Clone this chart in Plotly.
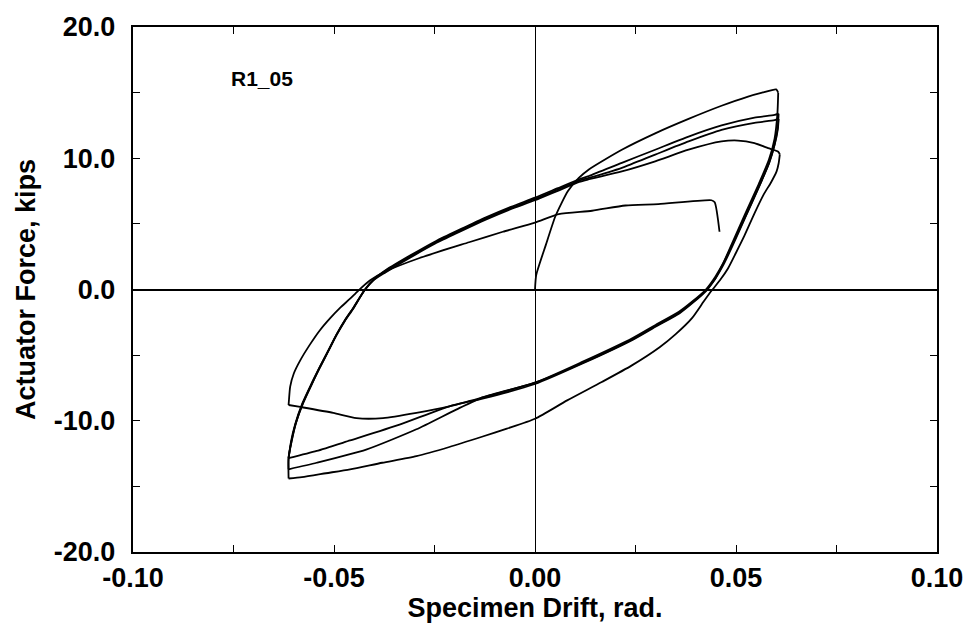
import plotly.graph_objects as go

# ---- Data: specimen drift (rad.) and actuator force (kips), traced half-cycle by half-cycle ----
h1_drift = [0.0, 0.0003, 0.0027, 0.0051, 0.0082, 0.0109, 0.0134, 0.0216, 0.0299, 0.0382, 0.0464, 0.0530, 0.0565, 0.0600, 0.0605]
h1_force = [0.0, 1.1, 3.4, 5.6, 7.5, 8.5, 9.15, 10.65, 11.9, 13.0, 14.0, 14.7, 15.0, 15.25, 15.0]

h2_drift = [0.0605, 0.0603, 0.0596, 0.0582, 0.0556, 0.0522, 0.0490, 0.0468, 0.0449, 0.0425, 0.0392, 0.0358, 0.0300, 0.0243, 0.0119, 0.0000, -0.0128, -0.0196, -0.0295, -0.0420, -0.0543, -0.0613]
h2_force = [15.0, 13.4, 11.5, 9.9, 8.0, 5.7, 3.5, 2.0, 1.0, 0.0, -0.9, -1.7, -2.7, -3.7, -5.5, -7.1, -8.2, -9.15, -10.65, -12.2, -13.2, -13.7]

h3_drift = [-0.0613, -0.0613, -0.0605, -0.0595, -0.0576, -0.0555, -0.0535, -0.0513, -0.0493, -0.0472, -0.0452, -0.0423, -0.0400, -0.0370, -0.0310, -0.0246, -0.0185, -0.0122, -0.0060, 0.0, 0.0055, 0.0110, 0.0134, 0.0216, 0.0299, 0.0382, 0.0464, 0.0546, 0.0596, 0.0606]
h3_force = [-13.7, -12.8, -11.5, -10.2, -8.6, -7.2, -5.9, -4.6, -3.4, -2.3, -1.4, 0.0, 0.8, 1.5, 2.6, 3.7, 4.6, 5.5, 6.3, 7.0, 7.7, 8.4, 8.65, 9.65, 10.65, 11.65, 12.5, 13.1, 13.3, 13.4]

h4_drift = [0.0606, 0.0604, 0.0597, 0.0583, 0.0557, 0.0523, 0.0491, 0.0469, 0.0450, 0.0426, 0.0393, 0.0360, 0.0302, 0.0245, 0.0121, 0.0, -0.0128, -0.0213, -0.0337, -0.0460, -0.0543, -0.0613]
h4_force = [13.4, 12.4, 11.2, 9.7, 7.8, 5.5, 3.3, 1.9, 0.9, -0.1, -1.0, -1.8, -2.8, -3.8, -5.6, -7.2, -8.3, -8.9, -10.3, -11.5, -12.3, -12.85]

h5_drift = [-0.0613, -0.0607, -0.0597, -0.0579, -0.0558, -0.0537, -0.0515, -0.0495, -0.0474, -0.0454, -0.0425, -0.0402, -0.0372, -0.0312, -0.0248, -0.0187, -0.0124, -0.0062, 0.0, 0.0055, 0.0110, 0.0134, 0.0216, 0.0299, 0.0382, 0.0464, 0.0505, 0.0546, 0.0580, 0.0605, 0.0609]
h5_force = [-12.85, -11.6, -10.3, -8.7, -7.3, -6.0, -4.7, -3.5, -2.4, -1.5, -0.1, 0.7, 1.3, 2.4, 3.5, 4.4, 5.3, 6.1, 6.8, 7.5, 8.2, 8.4, 9.0, 9.77, 10.65, 11.28, 11.35, 11.15, 10.77, 10.5, 10.3]

h6_drift = [0.0609, 0.0606, 0.0601, 0.0586, 0.0570, 0.0546, 0.0521, 0.0500, 0.0480, 0.0460, 0.0439, 0.0420, 0.0390, 0.0350, 0.0310, 0.0240, 0.0166, 0.0080, 0.0, -0.0070, -0.0130, -0.0213, -0.0295, -0.0380, -0.0460, -0.0520, -0.0580, -0.0613]
h6_force = [10.3, 9.6, 9.0, 8.1, 7.3, 5.8, 4.1, 2.8, 1.6, 0.7, -0.1, -0.9, -2.2, -3.4, -4.4, -5.8, -7.05, -8.45, -9.85, -10.6, -11.2, -12.0, -12.7, -13.2, -13.7, -14.0, -14.3, -14.4]

h7_drift = [-0.0613, -0.0613, -0.0606, -0.0596, -0.0578, -0.0557, -0.0536, -0.0514, -0.0494, -0.0473, -0.0453, -0.0424, -0.0401, -0.0371, -0.0311, -0.0247, -0.0186, -0.0123, -0.0061, 0.0, 0.0055, 0.0110, 0.0134, 0.0216, 0.0299, 0.0382, 0.0464, 0.0546, 0.0596, 0.0606]
h7_force = [-14.4, -12.9, -11.6, -10.3, -8.7, -7.3, -6.0, -4.7, -3.5, -2.4, -1.5, -0.05, 0.75, 1.45, 2.5, 3.6, 4.5, 5.4, 6.2, 6.9, 7.6, 8.3, 8.5, 9.27, 10.28, 11.28, 12.16, 12.7, 12.9, 13.0]

h8_drift = [0.0606, 0.0604, 0.0596, 0.0582, 0.0555, 0.0521, 0.0489, 0.0467, 0.0448, 0.0424, 0.0391, 0.0357, 0.0299, 0.0242, 0.0118, 0.0, -0.0128, -0.0213, -0.0295, -0.0378, -0.0444, -0.0502, -0.0584, -0.0613]
h8_force = [13.0, 12.2, 11.0, 9.6, 7.7, 5.4, 3.3, 1.9, 0.8, -0.1, -1.0, -1.8, -2.8, -3.8, -5.6, -7.1, -8.2, -8.9, -9.4, -9.8, -9.8, -9.4, -8.95, -8.8]

h9_drift = [-0.0613, -0.0612, -0.0609, -0.0600, -0.0584, -0.0560, -0.0535, -0.0510, -0.0485, -0.0460, -0.0440, -0.0410, -0.0370, -0.0287, -0.0164, -0.0080, 0.0, 0.0059, 0.0142, 0.0225, 0.0307, 0.0439, 0.0447, 0.0459]
h9_force = [-8.8, -8.4, -7.4, -6.4, -5.4, -4.2, -3.1, -2.2, -1.4, -0.7, -0.1, 0.7, 1.4, 2.4, 3.6, 4.4, 5.1, 5.75, 6.0, 6.4, 6.5, 6.8, 6.65, 4.4]

half_cycles = [
    (h1_drift, h1_force), (h2_drift, h2_force), (h3_drift, h3_force),
    (h4_drift, h4_force), (h5_drift, h5_force), (h6_drift, h6_force),
    (h7_drift, h7_force), (h8_drift, h8_force), (h9_drift, h9_force),
]

x_tickvals = [-0.10, -0.075, -0.05, -0.025, 0.0, 0.025, 0.05, 0.075, 0.10]
x_ticktext = ["-0.10", "", "-0.05", "", "0.00", "", "0.05", "", "0.10"]
y_tickvals = [-20, -15, -10, -5, 0, 5, 10, 15, 20]
y_ticktext = ["-20.0", "", "-10.0", "", "0.0", "", "10.0", "", "20.0"]

specimen_label = "R1_05"
x_title = "Specimen Drift, rad."
y_title = "Actuator Force, kips"

FONT = "Liberation Sans"

fig = go.Figure()
for d, f in half_cycles:
    fig.add_trace(go.Scatter(
        x=d, y=f, mode="lines",
        line=dict(color="black", width=1.8, shape="spline", smoothing=0.6),
        showlegend=False, hoverinfo="skip",
    ))

fig.add_annotation(
    x=-0.068, y=16.1, xref="x", yref="y", text=specimen_label, showarrow=False,
    font=dict(family=FONT, size=21, color="black", weight="bold"),
)

axis_common = dict(
    showgrid=False, showline=True, linecolor="black", linewidth=2.4,
    mirror="allticks", ticks="inside", ticklen=7, tickwidth=1.4, tickcolor="black",
    zeroline=True, zerolinecolor="black",
    tickfont=dict(family=FONT, size=27, color="black", weight="bold"),
    title_font=dict(family=FONT, size=27, color="black", weight="bold"),
)

fig.update_xaxes(
    range=[-0.10, 0.10], tickmode="array", tickvals=x_tickvals, ticktext=x_ticktext,
    zerolinewidth=1.4, title_text=x_title, title_standoff=0, ticklabelstandoff=0,
    **axis_common,
)
fig.update_yaxes(
    range=[-20, 20], tickmode="array", tickvals=y_tickvals, ticktext=y_ticktext,
    zerolinewidth=2.4, title_text=y_title, title_standoff=10, ticklabelstandoff=10,
    **axis_common,
)

fig.update_layout(
    width=975, height=625,
    margin=dict(l=133, r=35, t=19, b=73),
    plot_bgcolor="white", paper_bgcolor="white",
)

fig.write_html("out.html")
